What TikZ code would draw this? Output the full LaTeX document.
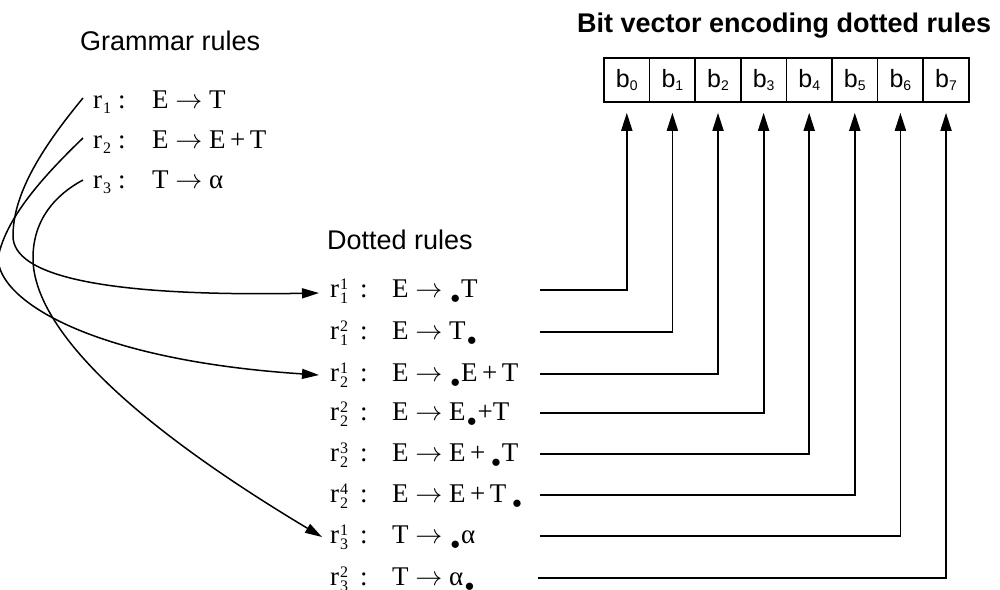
\RequirePackage{fix-cm}
\documentclass[tikz,border=0pt]{standalone}
\usepackage{fontspec}
\setmainfont{Liberation Serif}
\setsansfont{Liberation Sans}
\usetikzlibrary{arrows.meta,calc}

% dot marking the parser position inside a dotted rule
\newcommand\pdot{\kern1.5pt\raisebox{-6pt}{$\scriptstyle\bullet$}\kern1pt}
% small subscript digit used in the bit cells
\newcommand\bsub[1]{\raisebox{-3pt}{\fontsize{14}{14}\selectfont #1}}
% rule names: r with a subscript, and r with stacked super/subscript
\newcommand\rsub[1]{r\kern1pt\raisebox{-5pt}{\fontsize{16}{16}\selectfont #1}}
\newcommand\rsubsup[2]{r\kern1pt\rlap{\raisebox{8pt}{\fontsize{16}{16}\selectfont #2}}\raisebox{-6pt}{\fontsize{16}{16}\selectfont #1}}

\tikzset{
  heading/.style={font=\sffamily\fontsize{27}{30}\selectfont, anchor=base west, inner sep=0pt},
  title/.style={font=\sffamily\bfseries\fontsize{27}{30}\selectfont, anchor=base west, inner sep=0pt},
  rulelab/.style={font=\fontsize{27}{30}\selectfont, anchor=base west, inner sep=0pt},
  ruletext/.style={font=\fontsize{27}{30}\selectfont, anchor=base west, inner sep=0pt},
  cell/.style={draw, line width=1.6pt, minimum width=45.6pt, minimum height=44pt,
    inner sep=0pt, font=\sffamily\fontsize{25}{28}\selectfont},
  link/.style={line width=1.5pt, -{Triangle[length=17pt,width=10pt]}},
  feed/.style={line width=1.8pt, -{Triangle[length=18pt,width=11pt]}, shorten >=10pt},
}

\begin{document}
\begin{tikzpicture}[x=1pt,y=-1pt]
\useasboundingbox (0,0) rectangle (1000,589);
\clip (0,0) rectangle (1000,589);

% headings
\node[title]   (ttl) at (577,32)  {Bit vector encoding dotted rules};
\node[heading] (gh)  at (80,50)   {Grammar rules};
\node[heading] (dh)  at (327,249) {Dotted rules};

% bit vector cells
\foreach \i in {0,...,7}
  \node[cell] (b\i) at ({604+45.6*(\i+0.5)},80) {b\bsub{\i}};

% grammar rules
\node[rulelab]  (g1) at (93,108) {\makebox[25pt][l]{\rsub{1}}:};
\node[ruletext] (h1) at (152,108) {E $\rightarrow$ T};
\node[rulelab]  (g2) at (93,148) {\makebox[25pt][l]{\rsub{2}}:};
\node[ruletext] (h2) at (152,148) {E $\rightarrow$ E\,+\,T};
\node[rulelab]  (g3) at (93,188) {\makebox[25pt][l]{\rsub{3}}:};
\node[ruletext] (h3) at (152,188) {T $\rightarrow$ α};

% dotted rules
\node[rulelab] (d1) at (330,297) {\makebox[30pt][l]{\rsubsup{1}{1}}:};
\node[ruletext] (e1) at (392,297) {E $\rightarrow$ \pdot T};
\node[rulelab] (d2) at (330,339) {\makebox[30pt][l]{\rsubsup{1}{2}}:};
\node[ruletext] (e2) at (392,339) {E $\rightarrow$ T\pdot};
\node[rulelab] (d3) at (330,381) {\makebox[30pt][l]{\rsubsup{2}{1}}:};
\node[ruletext] (e3) at (392,381) {E $\rightarrow$ \pdot E\,+\,T};
\node[rulelab] (d4) at (330,420) {\makebox[30pt][l]{\rsubsup{2}{2}}:};
\node[ruletext] (e4) at (392,420) {E $\rightarrow$ E\pdot +T};
\node[rulelab] (d5) at (330,461) {\makebox[30pt][l]{\rsubsup{2}{3}}:};
\node[ruletext] (e5) at (392,461) {E $\rightarrow$ E\,+\,\pdot T};
\node[rulelab] (d6) at (330,502) {\makebox[30pt][l]{\rsubsup{2}{4}}:};
\node[ruletext] (e6) at (392,502) {E $\rightarrow$ E\,+\,T\,\pdot};
\node[rulelab] (d7) at (330,543) {\makebox[30pt][l]{\rsubsup{3}{1}}:};
\node[ruletext] (e7) at (392,543) {T $\rightarrow$ \pdot α};
\node[rulelab] (d8) at (330,585) {\makebox[30pt][l]{\rsubsup{3}{2}}:};
\node[ruletext] (e8) at (392,585) {T $\rightarrow$ α\pdot};

% start points of the feeds into the bit vector
\coordinate (s1) at (540,290);
\coordinate (s2) at (540,332);
\coordinate (s3) at (540,374);
\coordinate (s4) at (540,413);
\coordinate (s5) at (540,454);
\coordinate (s6) at (540,495);
\coordinate (s7) at (540,536);
\coordinate (s8) at (538,578);

\draw[feed] (s1) -| (b0.south);
\draw[feed] (s2) -| (b1.south);
\draw[feed] (s3) -| (b2.south);
\draw[feed] (s4) -| (b3.south);
\draw[feed] (s5) -| (b4.south);
\draw[feed] (s6) -| (b5.south);
\draw[feed] (s7) -| (b6.south);
\draw[feed] (s8) -| (b7.south);

% rules to their first dotted rule
\coordinate (a1) at ($(g1.base west)+(-10,-10)$);
\coordinate (a2) at ($(g2.base west)+(-10,-10)$);
\coordinate (a3) at ($(g3.base west)+(-10,-8)$);
\coordinate (t1) at ($(d1.base west)+(-11,-4)$);
\coordinate (t3) at ($(d3.base west)+(-11,-6)$);
\coordinate (t7) at ($(d7.base west)+(-8,-6)$);
\coordinate (k1) at (13,236);
\coordinate (k2) at (-2,258);
\coordinate (k3) at (33,258);

\draw[link] (a1) .. controls (40,150) and (13,195) .. (k1)
                 .. controls (13,275) and (100,297) .. (t1);
\draw[link] (a2) .. controls (50,170) and (6,215) .. (k2)
                 .. controls (-2,300) and (90,360) .. (t3);
\draw[link] (a3) .. controls (55,195) and (33,220) .. (k3)
                 .. controls (33,320) and (110,410) .. (t7);
\end{tikzpicture}
\end{document}
